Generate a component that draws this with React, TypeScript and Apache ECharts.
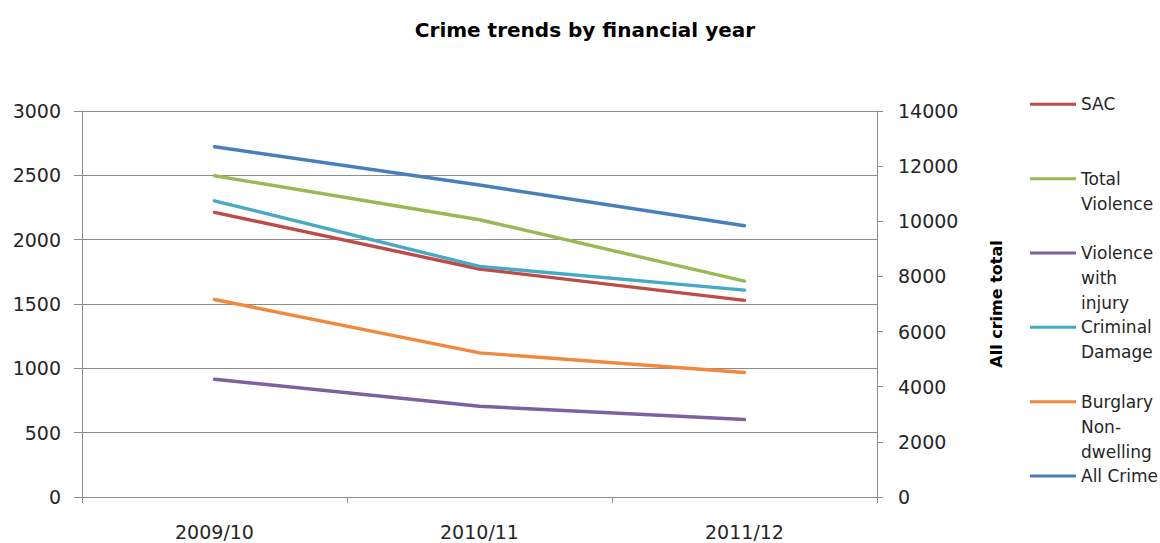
import React, { useEffect, useRef } from "react";
import * as echarts from "echarts";

const categories = ["2009/10", "2010/11", "2011/12"];
const sac = [2212, 1772, 1528];
const totalViolence = [2497, 2155, 1678];
const violenceWithInjury = [915, 705, 602];
const criminalDamage = [2302, 1792, 1608];
const burglaryNonDwelling = [1535, 1120, 968];
const allCrime = [12705, 11315, 9837];

const seriesNames = ["SAC", "Total Violence", "Violence with injury", "Criminal Damage", "Burglary Non-dwelling", "All Crime"];
const legendLabels = ["SAC", "Total\nViolence", "Violence\nwith\ninjury", "Criminal\nDamage", "Burglary\nNon-\ndwelling", "All Crime"];
const colors = ["#BE4B48", "#98B954", "#7D60A0", "#46AAC5", "#F0883E", "#4A7EBB"];

const FONT = "DejaVu Sans";
const TEXT = "#262626";
const GRID = "#8C8C8C";

export default function App() {
  const ref = useRef<HTMLDivElement>(null);
  useEffect(() => {
    document.body.style.margin = "0";
    const chart = echarts.init(ref.current!, null, { renderer: "svg" });
    const values = [sac, totalViolence, violenceWithInjury, criminalDamage, burglaryNonDwelling, allCrime];
    const lh = 25;
    const firstLineY = 104.3;
    const step = 74.35;
    const legends = seriesNames.map((name, i) => {
      const n = legendLabels[i].split("\n").length;
      const text = "\n".repeat(n - 1) + legendLabels[i];
      const y = firstLineY + i * step;
      return {
        data: [name],
        orient: "vertical",
        left: 1030,
        top: y - ((2 * n - 1) * lh) / 2,
        padding: 0,
        icon: "rect",
        itemWidth: 46,
        itemHeight: 3,
        formatter: () => text,
        textStyle: { fontFamily: FONT, fontSize: 17, color: TEXT, lineHeight: lh },
      };
    });
    chart.setOption({
      animation: false,
      color: colors,
      title: {
        text: "Crime trends by financial year",
        left: 585,
        textAlign: "center",
        top: 20,
        padding: 0,
        textStyle: { fontFamily: FONT, fontSize: 20, fontWeight: "bold", color: "#000" },
      },
      legend: legends,
      grid: { left: 82, right: 283, top: 111, bottom: 46, containLabel: false },
      xAxis: {
        type: "category",
        data: categories,
        boundaryGap: true,
        axisLine: { lineStyle: { color: GRID, width: 1 } },
        axisTick: { show: true, length: 6, lineStyle: { color: GRID } },
        axisLabel: { fontFamily: FONT, fontSize: 19, color: TEXT, margin: 25, lineHeight: 20 },
      },
      yAxis: [
        {
          type: "value",
          min: 0,
          max: 3000,
          interval: 500,
          axisLine: { show: true, lineStyle: { color: GRID, width: 1 } },
          axisTick: { show: true, length: 8, lineStyle: { color: GRID } },
          splitLine: { lineStyle: { color: GRID, width: 1 } },
          axisLabel: { fontFamily: FONT, fontSize: 19, color: TEXT, margin: 21, formatter: (v: number) => String(v) },
        },
        {
          type: "value",
          position: "right",
          min: 0,
          max: 14000,
          interval: 2000,
          name: "All crime total",
          nameLocation: "middle",
          nameRotate: 90,
          nameGap: 111,
          nameTextStyle: { fontFamily: FONT, fontSize: 16, fontWeight: "bold", color: "#000" },
          axisLine: { show: true, lineStyle: { color: GRID, width: 1 } },
          axisTick: { show: true, length: 6, lineStyle: { color: GRID } },
          splitLine: { show: false },
          axisLabel: { fontFamily: FONT, fontSize: 19, color: TEXT, margin: 21, formatter: (v: number) => String(v) },
        },
      ],
      series: seriesNames.map((name, i) => ({
        name,
        type: "line",
        yAxisIndex: i === 5 ? 1 : 0,
        data: values[i],
        symbol: "none",
        lineStyle: { width: 3.4, color: colors[i], cap: "round", join: "round" },
        itemStyle: { color: colors[i] },
      })),
    });
    return () => chart.dispose();
  }, []);
  return <div ref={ref} style={{ width: 1160, height: 543 }} />;
}
